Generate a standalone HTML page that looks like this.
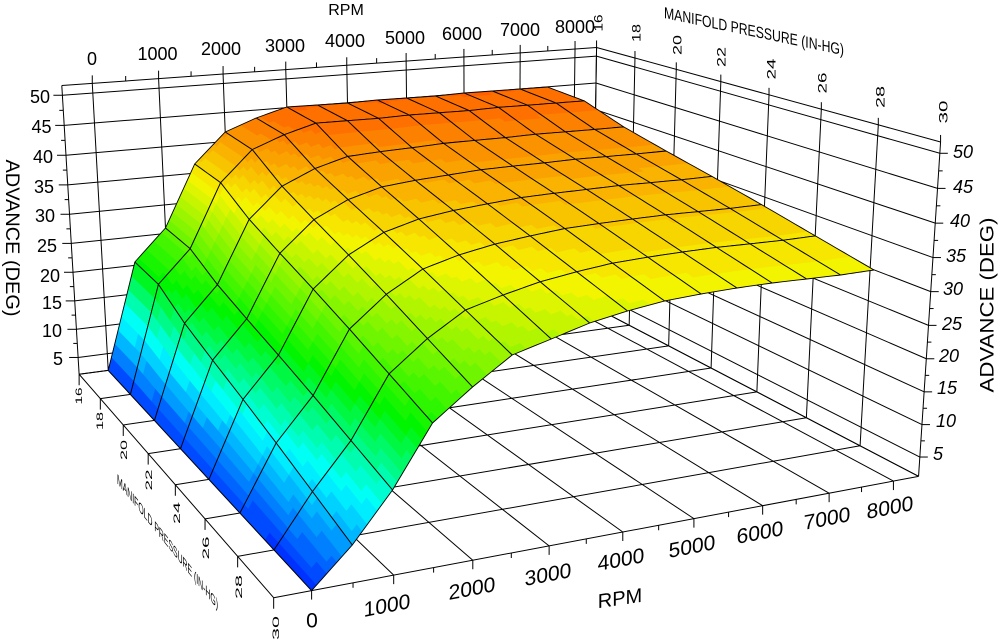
<!DOCTYPE html>
<html><head><meta charset="utf-8">
<style>html,body{margin:0;padding:0;background:#fff;}svg{display:block;}</style>
</head>
<body>
<svg id="c" width="1003" height="644" viewBox="0 0 1003 644" xmlns="http://www.w3.org/2000/svg">
<rect width="1003" height="644" fill="#fff"/>
<g id="walls" stroke="#000" stroke-width="1" fill="none"></g>
<g id="surf" stroke-linejoin="round"></g>
<g font-family="'Liberation Sans', sans-serif" fill="#000">
  <text x="346" y="15" font-size="16" text-anchor="middle">RPM</text>
  <g font-size="18" text-anchor="middle">
    <text x="92" y="65">0</text>
    <text x="157.5" y="60">1000</text>
    <text x="221" y="55">2000</text>
    <text x="285" y="52">3000</text>
    <text x="345" y="47">4000</text>
    <text x="405" y="44">5000</text>
    <text x="462" y="40">6000</text>
    <text x="520" y="36">7000</text>
    <text x="575" y="33">8000</text>
  </g>
  <g font-size="12" text-anchor="middle">
    <text transform="translate(598,23) rotate(-90)" y="4.3" textLength="17" lengthAdjust="spacingAndGlyphs">16</text>
    <text transform="translate(636,33) rotate(-90)" y="4.3" textLength="18" lengthAdjust="spacingAndGlyphs">18</text>
    <text transform="translate(677,45) rotate(-90)" y="4.3" textLength="20" lengthAdjust="spacingAndGlyphs">20</text>
    <text transform="translate(721,57) rotate(-90)" y="4.3" textLength="20" lengthAdjust="spacingAndGlyphs">22</text>
    <text transform="translate(771,69) rotate(-90)" y="4.3" textLength="21" lengthAdjust="spacingAndGlyphs">24</text>
    <text transform="translate(822,83) rotate(-90)" y="4.3" textLength="21" lengthAdjust="spacingAndGlyphs">26</text>
    <text transform="translate(880,97) rotate(-90)" y="4.3" textLength="22" lengthAdjust="spacingAndGlyphs">28</text>
    <text transform="translate(943,112) rotate(-90)" y="4.3" textLength="23" lengthAdjust="spacingAndGlyphs">30</text>
  </g>
  <text transform="translate(664,18) skewY(11.7)" font-size="16" textLength="180" lengthAdjust="spacingAndGlyphs">MANIFOLD PRESSURE (IN-HG)</text>
  <g font-size="9" text-anchor="middle">
    <text transform="translate(79,396) rotate(-90)" y="3.2" textLength="17" lengthAdjust="spacingAndGlyphs">16</text>
    <text transform="translate(100,421) rotate(-90)" y="3.2" textLength="18" lengthAdjust="spacingAndGlyphs">18</text>
    <text transform="translate(124,450) rotate(-90)" y="3.2" textLength="20" lengthAdjust="spacingAndGlyphs">20</text>
    <text transform="translate(149,480) rotate(-90)" y="3.2" textLength="21" lengthAdjust="spacingAndGlyphs">22</text>
    <text transform="translate(177,513) rotate(-90)" y="3.2" textLength="22" lengthAdjust="spacingAndGlyphs">24</text>
    <text transform="translate(206,548) rotate(-90)" y="3.2" textLength="23" lengthAdjust="spacingAndGlyphs">26</text>
    <text transform="translate(239,587) rotate(-90)" y="3.2" textLength="24" lengthAdjust="spacingAndGlyphs">28</text>
    <text transform="translate(276,628) rotate(-90)" y="3.2" textLength="24" lengthAdjust="spacingAndGlyphs">30</text>
  </g>
  <text transform="translate(117,483) skewY(51.5)" font-size="14" textLength="101" lengthAdjust="spacingAndGlyphs">MANIFOLD PRESSURE (IN-HG)</text>
  <g font-size="18" text-anchor="end">
    <text x="50" y="103">50</text>
    <text x="51.5" y="133">45</text>
    <text x="53" y="163">40</text>
    <text x="54" y="193">35</text>
    <text x="55" y="222">30</text>
    <text x="57" y="252">25</text>
    <text x="60" y="282">20</text>
    <text x="62" y="309">15</text>
    <text x="62" y="337">10</text>
    <text x="63" y="365">5</text>
  </g>
  <g font-size="18" font-style="italic">
    <text x="953" y="158">50</text>
    <text x="953" y="193">45</text>
    <text x="950" y="227">40</text>
    <text x="946" y="262">35</text>
    <text x="943" y="295">30</text>
    <text x="942" y="330">25</text>
    <text x="939" y="362">20</text>
    <text x="937" y="394">15</text>
    <text x="936" y="427">10</text>
    <text x="933" y="460">5</text>
  </g>
  <text transform="translate(12.5,238) rotate(90)" text-anchor="middle" y="6.5" font-size="19" textLength="157" lengthAdjust="spacingAndGlyphs">ADVANCE (DEG)</text>
  <text transform="translate(987,305) rotate(-90)" text-anchor="middle" y="6.5" font-size="19" textLength="175" lengthAdjust="spacingAndGlyphs">ADVANCE (DEG)</text>
  <g font-size="21" text-anchor="middle">
    <text transform="translate(312,620)" y="7.5">0</text>
    <text transform="translate(387,605) skewY(-11)" y="7.5">1000</text>
    <text transform="translate(472,588) skewY(-11)" y="7.5">2000</text>
    <text transform="translate(548,574) skewY(-11)" y="7.5">3000</text>
    <text transform="translate(621,559) skewY(-11)" y="7.5">4000</text>
    <text transform="translate(692,546) skewY(-11)" y="7.5">5000</text>
    <text transform="translate(760,532) skewY(-11)" y="7.5">6000</text>
    <text transform="translate(827,518) skewY(-11)" y="7.5">7000</text>
    <text transform="translate(890,507) skewY(-11)" y="7.5">8000</text>
  </g>
  <text transform="translate(620,598) skewY(-8.4)" text-anchor="middle" y="7" font-size="20">RPM</text>
</g>
</svg>
<script>
(function(){
const pts=[
[-450,16,51.6,62,85],[0,16,51.6,92,83],[1000,16,51.6,158,78.4],[2000,16,51.6,222,73.9],[3000,16,51.6,285,69.6],[4000,16,51.6,347,65.3],[5000,16,51.6,406,61.2],[6000,16,51.6,464,57.2],[7000,16,51.6,520,53.3],[8000,16,51.6,575,49.5],[8400,16,51.6,597,48],
[-450,16,50,62.6,95],[-450,16,45,64.4,125],[-450,16,40,66.1,155],[-450,16,35,67.9,185],[-450,16,30,69.6,215],[-450,16,25,71.3,243],[-450,16,20,73,272],[-450,16,15,74.7,301],[-450,16,10,76.4,330],[-450,16,5,78,356],[-450,16,2,79,374],
[-450,18,2,100,399],[-450,20,2,123,424],[-450,22,2,148,453],[-450,24,2,177,485],[-450,26,2,206,519],[-450,28,2,239,557],[-450,30,2,275,598],
[0,30,2,312,591],[1000,30,2,393,576],[2000,30,2,472,561],[3000,30,2,548,547],[4000,30,2,622,533],[5000,30,2,693,519],[6000,30,2,761,506],[7000,30,2,828,494],[8000,30,2,892,483],[8400,30,2,919,476],
[8400,30,50,939,153],[8400,30,45,937,188],[8400,30,40,935,223],[8400,30,35,933,258],[8400,30,30,931,291],[8400,30,25,929,323],[8400,30,20,927,357],[8400,30,15,925,391],[8400,30,10,923,423],[8400,30,5,921,456],[8400,30,51.6,940,142],
[8400,18,51.6,636,58.7],[8400,20,51.6,676,69.6],[8400,22,51.6,721,82],[8400,24,51.6,769,95],[8400,26,51.6,822,110],[8400,28,51.6,879,125]
];
const N=11;const A=[];const b=new Array(N).fill(0);
for(let i=0;i<N;i++)A.push(new Array(N).fill(0));
for(const q of pts){
  const u=q[0]/1000,v=(q[1]-16)/2,w=q[2]/10,X=q[3]/100,Y=q[4]/100;
  const rx=[u,v,w,1,0,0,0,0,-X*u,-X*v,-X*w], ry=[0,0,0,0,u,v,w,1,-Y*u,-Y*v,-Y*w];
  const rows=[[rx,X],[ry,Y]];
  for(const rr of rows){const row=rr[0],t=rr[1];
    for(let i=0;i<N;i++){b[i]+=row[i]*t;for(let j=0;j<N;j++)A[i][j]+=row[i]*row[j];}}
}
function solve(A,b){const n=b.length;
  for(let i=0;i<n;i++){let p=i;for(let k=i+1;k<n;k++)if(Math.abs(A[k][i])>Math.abs(A[p][i]))p=k;
    let t=A[i];A[i]=A[p];A[p]=t;let tb=b[i];b[i]=b[p];b[p]=tb;
    for(let k=i+1;k<n;k++){const f=A[k][i]/A[i][i];for(let j=i;j<n;j++)A[k][j]-=f*A[i][j];b[k]-=f*b[i];}}
  const x=new Array(n).fill(0);
  for(let i=n-1;i>=0;i--){let s=b[i];for(let j=i+1;j<n;j++)s-=A[i][j]*x[j];x[i]=s/A[i][i];}
  return x;}
const p=solve(A,b);
function P(r,m,z){const u=r/1000,v=(m-16)/2,w=z/10;const d=p[8]*u+p[9]*v+p[10]*w+1;
  return [100*(p[0]*u+p[1]*v+p[2]*w+p[3])/d,100*(p[4]*u+p[5]*v+p[6]*w+p[7])/d,d];}
function zFromY(r,m,y){const u=r/1000,v=(m-16)/2,Y=y/100;
  const a=p[4]*u+p[5]*v+p[7],B=p[6],C=p[8]*u+p[9]*v+1,D=p[10];
  return 10*(Y*C-a)/(B-Y*D);}
function clamp(z){return Math.max(2,Math.min(51,z));}

let wh='';
function L(a,c){wh+='<line x1="'+a[0].toFixed(2)+'" y1="'+a[1].toFixed(2)+'" x2="'+c[0].toFixed(2)+'" y2="'+c[1].toFixed(2)+'"/>';}
const R0=-450,R1=8400,Z0=2,Z1=51.6;
const zs=[Z0,5,10,15,20,25,30,35,40,45,50,Z1];
const rs=[R0,0,1000,2000,3000,4000,5000,6000,7000,8000,R1];
const ms=[16,18,20,22,24,26,28,30];
for(const r of rs)L(P(r,16,Z0),P(r,16,Z1));
for(const z of zs)L(P(R0,16,z),P(R1,16,z));
for(const m of ms)L(P(R1,m,Z0),P(R1,m,Z1));
for(const z of zs)L(P(R1,16,z),P(R1,30,z));
for(const r of rs)L(P(r,16,Z0),P(r,30,Z0));
for(const m of ms)L(P(R0,m,Z0),P(R1,m,Z0));
function T(a,dx,dy){L(a,[a[0]+dx,a[1]+dy]);}
for(let r=0;r<=8000;r+=500)T(P(r,16,Z1),0,(r%1000)?-5:-8);
for(const m of ms)T(P(R1,m,Z1),0,-7);
for(let z=5;z<=50.1;z+=2.5){const maj=(Math.abs(z%5)<0.01);T(P(R0,16,z),maj?-9:-4,0);T(P(R1,30,z),maj?8:4,0);}
for(let r=0;r<=8000;r+=500)T(P(r,30,Z0),0,(r%1000)?5:9);
for(const m of ms)T(P(R0,m,Z0),0,11);
document.getElementById('walls').innerHTML=wh;

const nR=16,nM=8;const R=[],M=[];
for(let i=0;i<nR;i++)R.push(i*500);
for(let j=0;j<nM;j++)M.push(16+2*j);
const yB=[370,262,228,164,132,118,107,105,103,100,98,96,93,91,89,87];
const yF=[591,545,490,423,387,355,339,323,311,301,294,288,283,279,275,270];
const zB=R.map((r,i)=>clamp(zFromY(r,16,yB[i])));
const zF=R.map((r,i)=>clamp(zFromY(r,30,yF[i])));
zB[0]=2;zF[0]=2;
const sp=[0,0.03,0.24,0.39,0.53,0.68,0.84,1];
const Z=[];
for(let i=0;i<nR;i++){Z.push([]);for(let j=0;j<nM;j++){Z[i].push(zB[i]+(zF[i]-zB[i])*sp[j]);}}
const CA=[[2,[0,50,255]],[11.5,[0,255,255]],[20.5,[0,245,0]],[34.5,[245,245,0]],[46,[255,90,0]],[51,[255,0,0]]];
function cmap(z){
  z=Math.floor(z/1.25)*1.25+0.625;
  let c=CA[CA.length-1][1];
  if(z<=CA[0][0])c=CA[0][1];
  else{for(let k=0;k<CA.length-1;k++){if(z<=CA[k+1][0]){const t=(z-CA[k][0])/(CA[k+1][0]-CA[k][0]);const a=CA[k][1],bb=CA[k+1][1];c=[a[0]+(bb[0]-a[0])*t,a[1]+(bb[1]-a[1])*t,a[2]+(bb[2]-a[2])*t];break;}}}
  return 'rgb('+Math.round(c[0])+','+Math.round(c[1])+','+Math.round(c[2])+')';}
const quads=[];
for(let i=0;i<nR-1;i++)for(let j=0;j<nM-1;j++){
  const c=P((R[i]+R[i+1])/2,(M[j]+M[j+1])/2,(Z[i][j]+Z[i+1][j]+Z[i][j+1]+Z[i+1][j+1])/4);
  quads.push([i,j,c[2]]);}
quads.sort((a,c)=>c[2]-a[2]);
const n=8;let sh='';
function pt(q){return q[0].toFixed(2)+','+q[1].toFixed(2);}
for(const q of quads){const i=q[0],j=q[1];
  const z00=Z[i][j],z10=Z[i+1][j],z01=Z[i][j+1],z11=Z[i+1][j+1];
  const zi=function(s,t){return z00*(1-s)*(1-t)+z10*s*(1-t)+z01*(1-s)*t+z11*s*t;};
  const g=[];
  for(let a=0;a<=n;a++){g.push([]);for(let c=0;c<=n;c++){const s=a/n,t=c/n;g[a].push(P(R[i]+500*s,M[j]+2*t,zi(s,t)));}}
  for(let a=0;a<n;a++)for(let c=0;c<n;c++){
    const col=cmap(zi((a+0.5)/n,(c+0.5)/n));
    sh+='<polygon points="'+pt(g[a][c])+' '+pt(g[a+1][c])+' '+pt(g[a+1][c+1])+' '+pt(g[a][c+1])+'" fill="'+col+'" stroke="'+col+'" stroke-width="0.6"/>';}
  let ol=[];
  for(let a=0;a<=n;a++)ol.push(pt(g[a][0]));
  for(let c=1;c<=n;c++)ol.push(pt(g[n][c]));
  for(let a=n-1;a>=0;a--)ol.push(pt(g[a][n]));
  for(let c=n-1;c>=1;c--)ol.push(pt(g[0][c]));
  sh+='<polygon points="'+ol.join(' ')+'" fill="none" stroke="#000" stroke-width="0.9"/>';
}
document.getElementById('surf').innerHTML=sh;
})();
</script>
</body></html>
